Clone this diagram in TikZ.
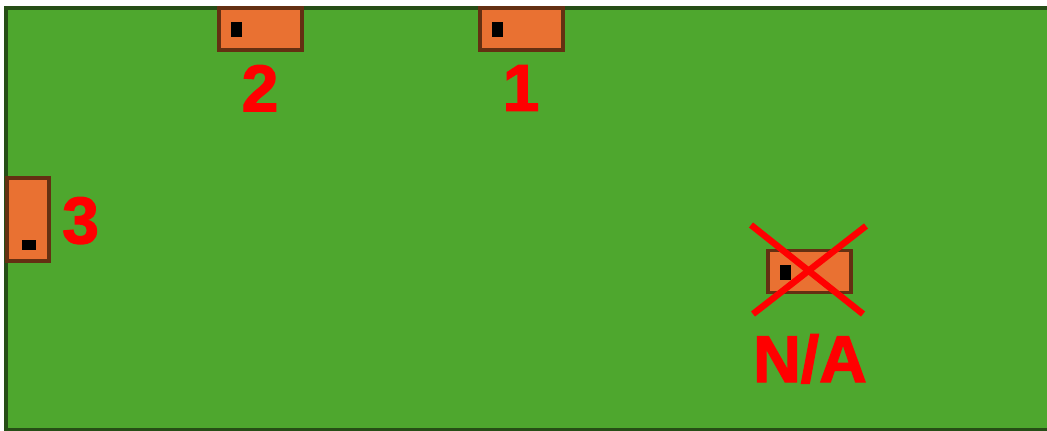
\documentclass[tikz,border=0pt]{standalone}
\usepackage{fontspec}
\setmainfont{Liberation Sans}
\newfontfamily\numfont{Liberation Sans Bold}[FakeBold=2]
\usepackage{tikz}
\usetikzlibrary{positioning,calc}
\definecolor{boardgreen}{RGB}{78,167,46}
\definecolor{boardedge}{RGB}{38,78,22}
\definecolor{partorange}{RGB}{233,113,50}
\definecolor{partedge}{RGB}{100,48,18}

\begin{document}
\begin{tikzpicture}[x=1pt,y=-1pt,
  part/.style={draw=partedge,line width=3.4pt,fill=partorange,inner sep=0pt,
               minimum width=83pt,minimum height=42pt},
  vpart/.style={part,minimum width=42pt,minimum height=83pt},
  pad/.style={fill=black,inner sep=0pt,minimum width=11pt,minimum height=15pt},
  vpad/.style={pad,minimum width=14pt,minimum height=10pt},
  num/.style={text=red,font=\numfont\fontsize{66}{66}\selectfont,inner sep=0pt},
  strike/.style={red,line width=6.5pt}
]
\useasboundingbox (0,0) rectangle (1047,431);

% Board
\fill[boardgreen] (6,8) rectangle (1050,430);
\draw[boardedge,line width=3.2pt] (1050,8) -- (6,8) -- (6,430) -- (1050,430);

% Parts on the board
\node[part] (p2) at (260.5,29) {};
\node[pad] (p2pad) at (236.5,29) {};
\node[part] (p1) at (521.5,29) {};
\node[pad] (p1pad) at (497,29) {};
\node[vpart] (p3) at (28,219.5) {};
\node[vpad] (p3pad) at (28.5,245) {};
\node[part] (pna) at (809.5,271.5) {};
\node[pad] (pnapad) at (785.5,272.5) {};

% Labels
\node[num,anchor=north] (l2) at (260,65) {2};
\node[num,anchor=north] (l1) at (521,65) {1};
\node[num,anchor=north west] (l3) at (62,197) {3};
\node[num,anchor=north] (lna) at (810,334) {N/A};

% Cross over the unused part
\draw[strike] (751,225) -- (863,314);
\draw[strike] (866,226) -- (753,314);

\end{tikzpicture}
\end{document}
